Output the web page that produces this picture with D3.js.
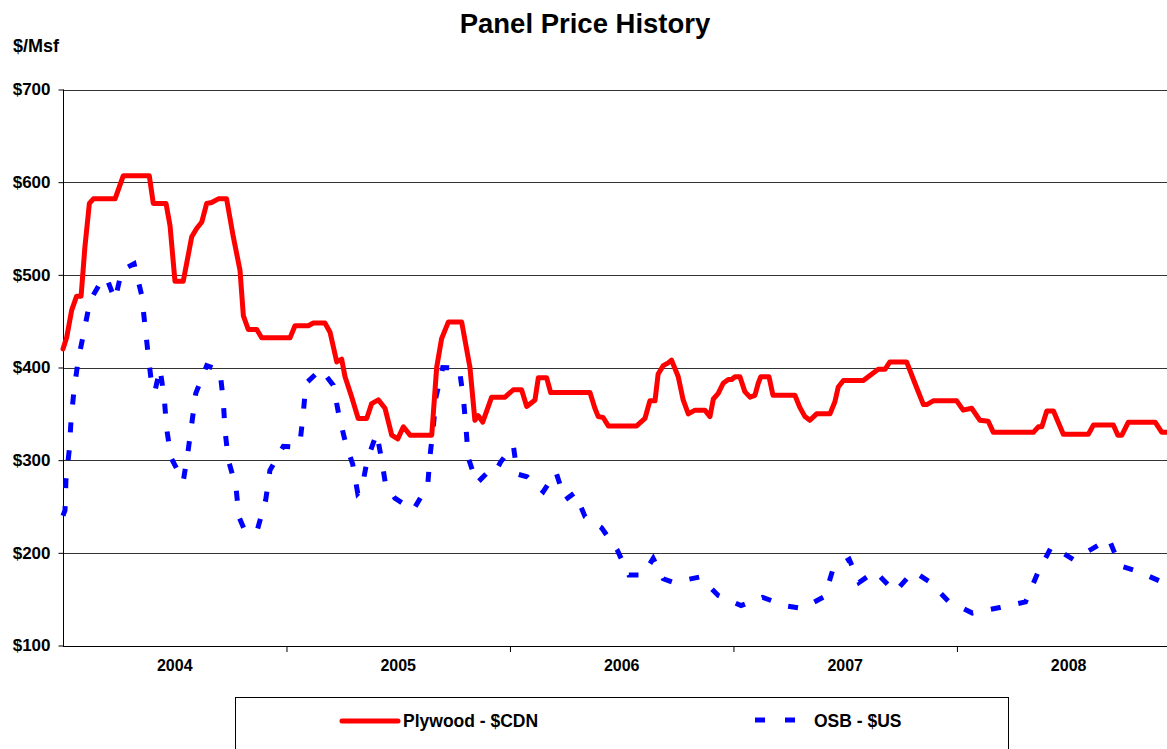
<!DOCTYPE html>
<html><head><meta charset="utf-8">
<script src="https://cdn.jsdelivr.net/npm/d3@7"></script>
<style>
html,body{margin:0;padding:0;background:#fff;}
text{font-family:Arial,"Liberation Sans",sans-serif;font-weight:bold;fill:#000;}
</style></head>
<body><svg id="c" width="1167" height="749"></svg>
<script>
// ---- data (decimal year, $/Msf) ----
const plywood = [[2004.000,420],[2004.017,433],[2004.039,462],[2004.061,477],[2004.081,477],[2004.098,530],[2004.118,577],[2004.136,582],[2004.233,582],[2004.270,607],[2004.386,607],[2004.404,577],[2004.461,577],[2004.479,553],[2004.501,493],[2004.538,493],[2004.576,541],[2004.598,550],[2004.621,557],[2004.643,577],[2004.665,578],[2004.695,582],[2004.732,582],[2004.762,541],[2004.792,505],[2004.807,456],[2004.829,441],[2004.867,441],[2004.889,432],[2005.016,432],[2005.038,445],[2005.098,445],[2005.120,448],[2005.172,448],[2005.195,438],[2005.225,406],[2005.247,409],[2005.262,390],[2005.292,368],[2005.321,345],[2005.359,345],[2005.381,361],[2005.411,365],[2005.441,356],[2005.471,327],[2005.498,323],[2005.523,336],[2005.553,327],[2005.650,327],[2005.672,400],[2005.694,431],[2005.724,449],[2005.784,449],[2005.821,400],[2005.843,343],[2005.858,348],[2005.878,341],[2005.918,368],[2005.978,368],[2006.015,376],[2006.052,376],[2006.075,358],[2006.112,365],[2006.127,389],[2006.164,389],[2006.182,373],[2006.358,373],[2006.380,356],[2006.395,347],[2006.417,346],[2006.440,337],[2006.567,337],[2006.604,345],[2006.626,364],[2006.649,364],[2006.663,393],[2006.686,402],[2006.708,405],[2006.723,408],[2006.753,390],[2006.775,365],[2006.798,350],[2006.828,354],[2006.872,354],[2006.895,347],[2006.910,366],[2006.932,372],[2006.954,383],[2006.977,387],[2006.992,387],[2007.007,390],[2007.029,390],[2007.051,374],[2007.074,368],[2007.096,370],[2007.111,383],[2007.122,390],[2007.159,390],[2007.177,370],[2007.275,370],[2007.297,357],[2007.320,347],[2007.342,343],[2007.372,350],[2007.432,350],[2007.454,363],[2007.469,379],[2007.492,386],[2007.581,386],[2007.603,390],[2007.648,398],[2007.678,398],[2007.700,406],[2007.775,406],[2007.812,383],[2007.850,360],[2007.865,360],[2007.894,364],[2007.999,364],[2008.028,354],[2008.066,356],[2008.103,343],[2008.140,342],[2008.163,330],[2008.342,330],[2008.364,336],[2008.380,336],[2008.402,353],[2008.432,353],[2008.476,328],[2008.588,328],[2008.611,338],[2008.700,338],[2008.720,327],[2008.738,327],[2008.767,341],[2008.887,341],[2008.917,330],[2008.940,330]];
const osb = [[2004.000,240],[2004.009,246],[2004.013,278],[2004.028,311],[2004.036,343],[2004.049,375],[2004.068,408],[2004.095,440],[2004.121,472],[2004.180,497],[2004.196,496],[2004.233,473],[2004.263,505],[2004.318,512],[2004.352,478],[2004.367,445],[2004.382,412],[2004.397,381],[2004.411,374],[2004.434,399],[2004.453,367],[2004.464,334],[2004.483,303],[2004.538,277],[2004.558,307],[2004.576,339],[2004.594,372],[2004.643,402],[2004.702,397],[2004.717,365],[2004.725,332],[2004.740,300],[2004.774,271],[2004.787,239],[2004.817,222],[2004.871,226],[2004.907,257],[2004.926,289],[2004.986,315],[2005.038,314],[2005.060,318],[2005.075,350],[2005.087,383],[2005.154,398],[2005.209,381],[2005.235,348],[2005.266,317],[2005.296,296],[2005.319,264],[2005.336,268],[2005.362,301],[2005.404,329],[2005.426,300],[2005.444,273],[2005.485,259],[2005.567,246],[2005.632,273],[2005.642,304],[2005.657,336],[2005.669,368],[2005.699,400],[2005.773,399],[2005.791,368],[2005.803,336],[2005.813,303],[2005.851,275],[2005.893,285],[2005.928,284],[2005.958,298],[2006.015,316],[2006.033,285],[2006.077,282],[2006.149,266],[2006.206,287],[2006.246,257],[2006.291,265],[2006.336,239],[2006.410,227],[2006.480,203],[2006.532,176],[2006.596,176],[2006.641,194],[2006.686,172],[2006.731,168],[2006.850,174],[2006.932,154],[2007.034,143],[2007.131,152],[2007.230,143],[2007.308,140],[2007.409,153],[2007.446,183],[2007.518,193],[2007.562,168],[2007.633,180],[2007.723,158],[2007.805,180],[2007.876,169],[2007.961,148],[2008.069,135],[2008.192,141],[2008.307,147],[2008.361,178],[2008.424,207],[2008.520,193],[2008.603,204],[2008.680,215],[2008.729,186],[2008.809,180],[2008.923,168],[2008.940,163]];
const yTicks = [100,200,300,400,500,600,700];
const yearTicks = [2005,2006,2007,2008];
const yearLabels = ["2004","2005","2006","2007","2008"];
const seriesNames = ["Plywood - $CDN","OSB - $US"];
const title = "Panel Price History";
const yUnit = "$/Msf";

const svg = d3.select("#c");
const x = d3.scaleLinear().domain([2004, 2008.94]).range([63, 1167]);
const y = d3.scaleLinear().domain([100, 700]).range([645.5, 89.5]);

// title
svg.append("text").attr("x",585).attr("y",33).attr("text-anchor","middle")
  .style("font-size","27.5px").text(title);
svg.append("text").attr("x",13).attr("y",52).style("font-size","18px").text(yUnit);

// gridlines
svg.append("g").selectAll("line").data(yTicks.filter(d=>d>100)).join("line")
  .attr("x1",63).attr("x2",1167)
  .attr("y1",d=>Math.round(y(d))+0.5).attr("y2",d=>Math.round(y(d))+0.5)
  .attr("stroke","#333").attr("stroke-width",1);

// y axis
const yAxis = d3.axisLeft(y).tickValues(yTicks).tickSize(5).tickPadding(8)
  .tickFormat(d=>"$"+d);
const gy = svg.append("g").attr("transform","translate(63.5,0)").call(yAxis);
gy.selectAll("text").style("font-size","17px").style("font-family","Arial, 'Liberation Sans', sans-serif").style("font-weight","bold");
gy.selectAll("line,path").attr("stroke","#000");
gy.select(".domain").attr("d","M0,89.5V646");

// x axis
const xAxis = d3.axisBottom(x).tickValues(yearTicks).tickSize(6).tickFormat("");
const gx = svg.append("g").attr("transform","translate(0,646)").call(xAxis);
gx.selectAll("line,path").attr("stroke","#000");
gx.select(".domain").attr("d","M63,0.5H1167");
svg.append("g").selectAll("text").data(yearLabels).join("text")
  .attr("x",d=>x(+d+0.5)).attr("y",671).attr("text-anchor","middle")
  .style("font-size","16px").text(d=>d);

// lines
const line = d3.line().x(d=>x(d[0])).y(d=>y(d[1]));
svg.append("path").datum(osb).attr("d",line).attr("fill","none")
  .attr("stroke","#0000ff").attr("stroke-width",5).attr("stroke-dasharray","10,18");
svg.append("path").datum(plywood).attr("d",line).attr("fill","none")
  .attr("stroke","#ff0000").attr("stroke-width",5).attr("stroke-linejoin","round").attr("stroke-linecap","round");

// legend
svg.append("rect").attr("x",235.5).attr("y",697.5).attr("width",773).attr("height",70)
  .attr("fill","none").attr("stroke","#000").attr("stroke-width",1);
svg.append("line").attr("x1",342).attr("x2",398).attr("y1",721).attr("y2",721)
  .attr("stroke","#ff0000").attr("stroke-width",5).attr("stroke-linecap","round");
svg.append("text").attr("x",403).attr("y",727).style("font-size","17.5px").text(seriesNames[0]);
svg.append("line").attr("x1",755).attr("x2",811).attr("y1",720).attr("y2",720)
  .attr("stroke","#0000ff").attr("stroke-width",5).attr("stroke-dasharray","10,20");
svg.append("text").attr("x",814).attr("y",727).style("font-size","17.5px").text(seriesNames[1]);
</script></body></html>
